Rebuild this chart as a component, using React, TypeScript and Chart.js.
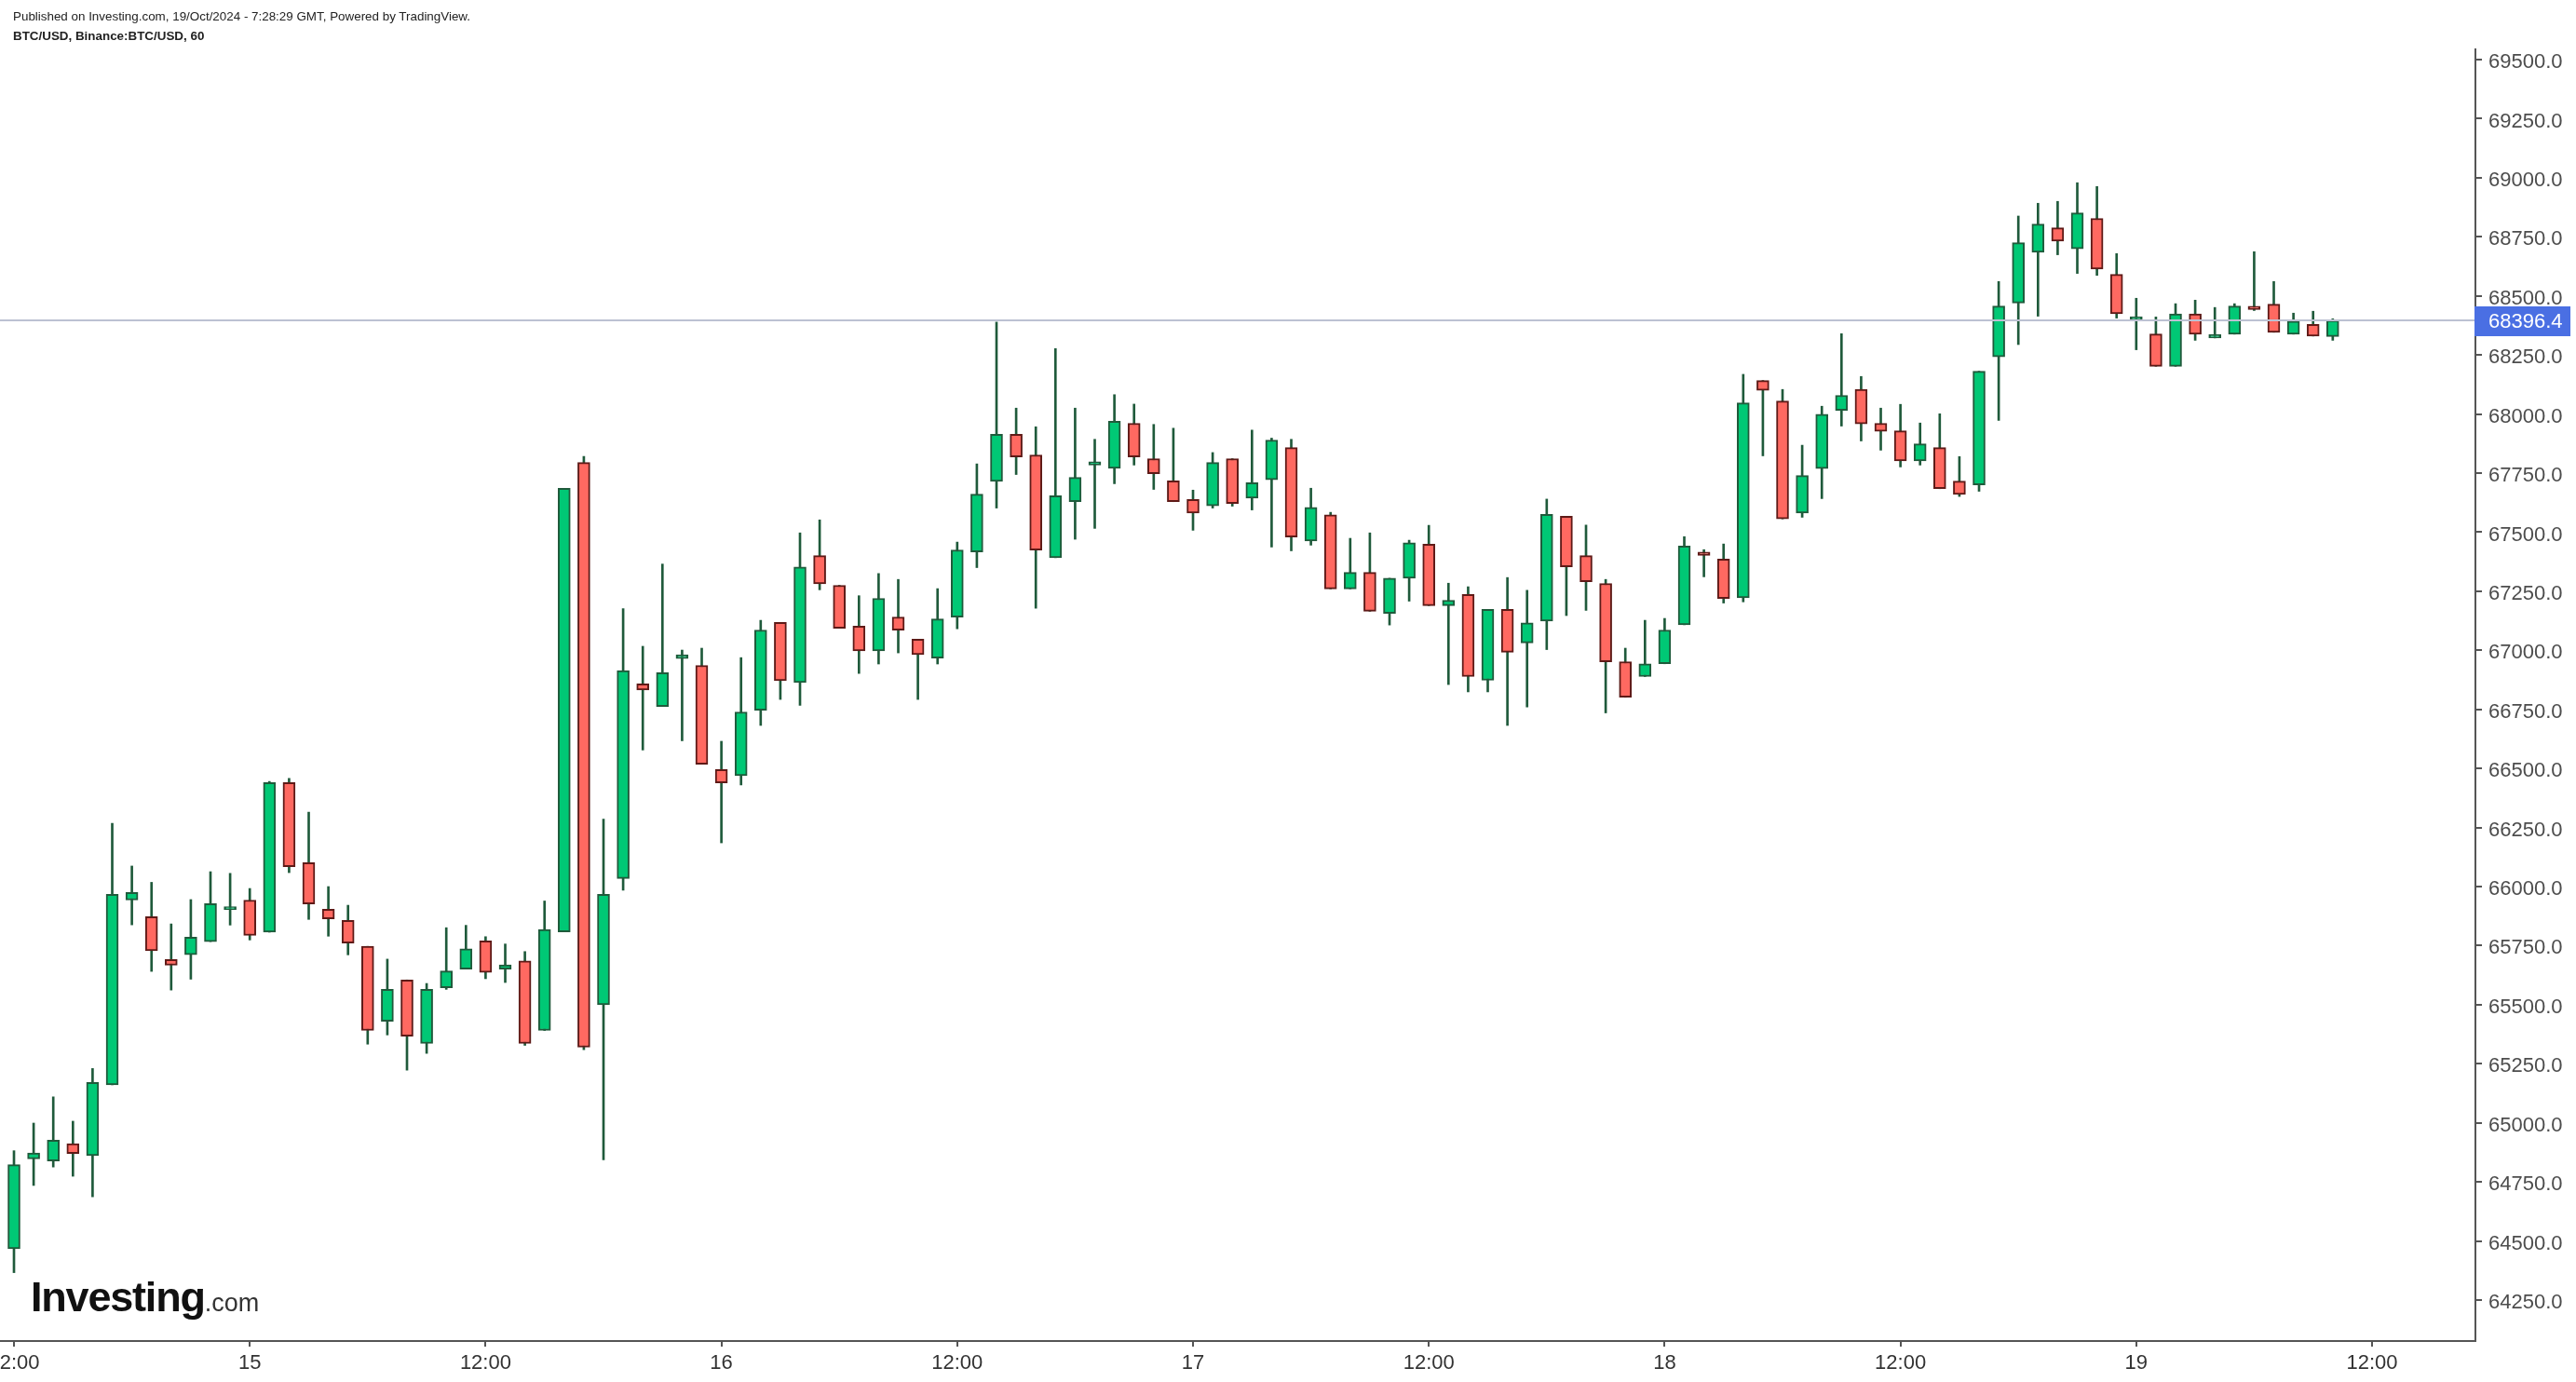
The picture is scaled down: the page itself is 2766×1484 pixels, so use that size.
import React, { useEffect, useRef } from "react";
import { Chart, registerables } from "chart.js";

Chart.register(...registerables);

// ---- Data (hourly BTC/USD candles, 14 Oct 12:00 -> 19 Oct 10:00) ----
const openPrices = [
  64467, 64847, 64839, 64912, 64861, 65161, 65943, 65873, 65691, 65712,
  65767, 65903, 65943, 65807, 66440, 66101, 65904, 65857, 65747, 65430,
  65605, 65336, 65572, 65651, 65770, 65651, 65685, 65391, 65808, 67795,
  65500, 66034, 66858, 66762, 66965, 66936, 66495, 66469, 66746, 67118,
  66864, 67401, 67275, 67102, 66998, 67141, 67047, 66967, 67140, 67416,
  67715, 67914, 67827, 67392, 67629, 67784, 67770, 67961, 67811, 67717,
  67638, 67611, 67811, 67644, 67722, 67858, 67463, 67573, 67260, 67330,
  67156, 67305, 67449, 67189, 67236, 66873, 67173, 67031, 67124, 67567,
  67401, 67283, 66952, 66889, 66943, 67108, 67416, 67386, 67222, 68142,
  68055, 67581, 67769, 68015, 68104, 67961, 67929, 67802, 67858, 67716,
  67700, 68242, 68470, 68684, 68788, 68699, 68828, 68591, 68398, 68339,
  68202, 68424, 68322, 68338, 68456, 68465, 68338, 68379, 68328,
];
const highPrices = [
  64882, 64999, 65110, 65007, 65230, 66268, 66087, 66018, 65842, 65945,
  66063, 66056, 65992, 66445, 66458, 66315, 66000, 65921, 65747, 65693,
  65605, 65590, 65826, 65836, 65788, 65757, 65725, 65939, 67686, 67821,
  66285, 67176, 67017, 67365, 67001, 67009, 66615, 66969, 67127, 67118,
  67497, 67552, 67275, 67231, 67325, 67300, 67047, 67261, 67458, 67789,
  68389, 68025, 67946, 68277, 68025, 67893, 68082, 68042, 67956, 67940,
  67678, 67837, 67811, 67932, 67898, 67893, 67686, 67584, 67474, 67497,
  67305, 67466, 67529, 67284, 67269, 67173, 67308, 67254, 67640, 67567,
  67530, 67300, 67009, 67127, 67135, 67481, 67426, 67450, 68168, 68142,
  68104, 67868, 68033, 68340, 68159, 68025, 68041, 67962, 68001, 67820,
  68181, 68561, 68838, 68892, 68900, 68979, 68963, 68679, 68490, 68411,
  68467, 68482, 68451, 68467, 68687, 68561, 68427, 68435, 68403,
];
const lowPrices = [
  64366, 64735, 64813, 64774, 64687, 65161, 65838, 65641, 65562, 65608,
  65767, 65837, 65774, 65807, 66059, 65861, 65790, 65711, 65333, 65372,
  65223, 65294, 65565, 65651, 65610, 65594, 65328, 65391, 65808, 65310,
  64844, 65985, 66578, 66762, 66617, 66518, 66185, 66430, 66682, 66792,
  66767, 67256, 67093, 66902, 66942, 66989, 66792, 66942, 67091, 67350,
  67602, 67744, 67178, 67392, 67470, 67516, 67705, 67784, 67681, 67629,
  67508, 67602, 67610, 67594, 67437, 67421, 67445, 67260, 67260, 67165,
  67107, 67208, 67189, 66855, 66824, 66824, 66682, 66760, 67003, 67147,
  67169, 66735, 66801, 66889, 66943, 67108, 67311, 67200, 67205, 67823,
  67556, 67563, 67642, 67949, 67886, 67847, 67776, 67784, 67684, 67651,
  67673, 67973, 68294, 68414, 68674, 68595, 68587, 68406, 68272, 68202,
  68202, 68312, 68322, 68338, 68438, 68346, 68338, 68330, 68312,
];
const closePrices = [
  64823, 64872, 64927, 64870, 65171, 65967, 65975, 65728, 65667, 65786,
  65928, 65915, 65793, 66440, 66084, 65926, 65863, 65761, 65391, 65565,
  65367, 65565, 65643, 65737, 65637, 65669, 65336, 65818, 67686, 65320,
  65967, 66914, 66832, 66905, 66981, 66518, 66439, 66739, 67086, 66871,
  67353, 67281, 67093, 66998, 67220, 67085, 66982, 67133, 67425, 67661,
  67914, 67818, 67424, 67654, 67732, 67798, 67969, 67818, 67747, 67629,
  67581, 67795, 67621, 67709, 67890, 67479, 67605, 67260, 67330, 67165,
  67305, 67455, 67189, 67212, 66889, 67173, 66992, 67116, 67575, 67353,
  67290, 66951, 66801, 66943, 67086, 67441, 67402, 67219, 68047, 68100,
  67556, 67740, 67999, 68079, 67958, 67927, 67802, 67874, 67684, 67660,
  68181, 68457, 68725, 68804, 68732, 68851, 68614, 68424, 68412, 68202,
  68424, 68338, 68336, 68457, 68442, 68346, 68393, 68330, 68396.4,
];
const lastPrice = 68396.4;

const xTickHours = [0, 12, 24, 36, 48, 60, 72, 84, 96, 108, 120];
const xTickLabels = ["12:00", "15", "12:00", "16", "12:00", "17", "12:00", "18", "12:00", "19", "12:00"];
const yTickValues = [
  64250, 64500, 64750, 65000, 65250, 65500, 65750, 66000, 66250, 66500, 66750,
  67000, 67250, 67500, 67750, 68000, 68250, 68500, 68750, 69000, 69250, 69500,
];

const headerLine = "Published on Investing.com, 19/Oct/2024 - 7:28:29 GMT, Powered by TradingView.";
const symbolLine = "BTC/USD, Binance:BTC/USD, 60";

const FONT = '"Liberation Sans", Arial, Helvetica, sans-serif';
const GREEN = "#00c875";
const GREEN_BORDER = "#1f5a3b";
const RED = "#ff6961";
const RED_BORDER = "#5e1a17";
const WICK = "#1f5a3b";
const AXIS = "#555555";

const W = 2766;
const H = 1484;

const lastPricePlugin = {
  id: "lastPrice",
  afterDatasetsDraw(chart: any) {
    const { ctx, chartArea } = chart;
    const y = Math.round(chart.scales.y.getPixelForValue(lastPrice));
    ctx.save();
    ctx.strokeStyle = "#bcc1d2";
    ctx.lineWidth = 2;
    ctx.beginPath();
    ctx.moveTo(chartArea.left, y);
    ctx.lineTo(chartArea.right, y);
    ctx.stroke();
    ctx.restore();
  },
  afterDraw(chart: any) {
    const { ctx, chartArea } = chart;
    const y = chart.scales.y.getPixelForValue(lastPrice);
    ctx.save();
    ctx.fillStyle = "#4a6fe3";
    ctx.fillRect(chartArea.right - 1, y - 15, 103, 32);
    ctx.fillStyle = "#ffffff";
    ctx.font = `22px ${FONT}`;
    ctx.textBaseline = "middle";
    ctx.textAlign = "left";
    ctx.fillText(lastPrice.toFixed(1), chartArea.right + 14, y + 2);
    ctx.restore();
  },
};

export default function App() {
  const canvasRef = useRef<HTMLCanvasElement | null>(null);

  useEffect(() => {
    const canvas = canvasRef.current;
    if (!canvas) return;
    const idx = openPrices.map((_, i) => i);
    const up = idx.map((i) => closePrices[i] >= openPrices[i]);
    const bodies = idx.map((i) => ({ x: i, y: [openPrices[i], closePrices[i]] }));
    const wicks = idx.map((i) => ({ x: i, y: [lowPrices[i], highPrices[i]] }));

    const chart = new Chart(canvas, {
      type: "bar",
      data: {
        datasets: [
          {
            label: "body",
            data: bodies as any,
            order: 0,
            grouped: false,
            barThickness: 13,
            borderWidth: 2,
            borderSkipped: false,
            backgroundColor: up.map((u) => (u ? GREEN : RED)),
            borderColor: up.map((u) => (u ? GREEN_BORDER : RED_BORDER)),
          } as any,
          {
            label: "wick",
            data: wicks as any,
            order: 1,
            grouped: false,
            barThickness: 2,
            borderWidth: 0,
            backgroundColor: WICK,
          } as any,
        ],
      },
      options: {
        responsive: false,
        animation: false,
        devicePixelRatio: 1,
        layout: { padding: { top: 53, left: 0, right: 0, bottom: 0 } },
        plugins: { legend: { display: false }, tooltip: { enabled: false } },
        scales: {
          x: {
            type: "linear",
            min: -0.711,
            max: 125.26,
            offset: false,
            grid: {
              display: true,
              drawOnChartArea: false,
              drawTicks: true,
              tickLength: 6,
              color: AXIS,
              lineWidth: 2,
              offset: false,
            },
            border: { display: true, color: AXIS, width: 2 },
            ticks: {
              autoSkip: false,
              maxRotation: 0,
              minRotation: 0,
              color: "#333333",
              padding: 5,
              font: { family: FONT, size: 22 },
              callback: (v: any) => {
                const k = xTickHours.indexOf(Number(v));
                return k >= 0 ? xTickLabels[k] : "";
              },
            },
            afterBuildTicks: (s: any) => {
              s.ticks = xTickHours.map((v) => ({ value: v }));
            },
            afterFit: (s: any) => {
              s.height = 44;
              s.paddingLeft = 0;
              s.paddingRight = 0;
            },
          } as any,
          y: {
            type: "linear",
            position: "right",
            min: 64076.6,
            max: 69543.4,
            grid: {
              display: true,
              drawOnChartArea: false,
              drawTicks: true,
              tickLength: 7,
              color: AXIS,
              lineWidth: 2,
            },
            border: { display: true, color: AXIS, width: 2 },
            ticks: {
              color: "#4d4d4d",
              padding: 7,
              labelOffset: 3,
              font: { family: FONT, size: 22 },
              callback: (v: any) => Number(v).toFixed(1),
            },
            afterBuildTicks: (s: any) => {
              s.ticks = yTickValues.map((v) => ({ value: v }));
            },
            afterFit: (s: any) => {
              s.width = 108;
              s.paddingTop = 0;
              s.paddingBottom = 0;
            },
          } as any,
        },
      },
      plugins: [lastPricePlugin],
    });
    return () => chart.destroy();
  }, []);

  return (
    <div
      style={{
        position: "absolute",
        left: 0,
        top: 0,
        width: W,
        height: H,
        background: "#ffffff",
        overflow: "hidden",
        fontFamily: FONT,
      }}
    >
      <canvas
        ref={canvasRef}
        width={W}
        height={H}
        style={{ position: "absolute", left: 0, top: 0, width: W, height: H, display: "block" }}
      />
      <div style={{ position: "absolute", left: 14, top: 9, fontSize: 13.4, color: "#222", lineHeight: "17px", whiteSpace: "nowrap" }}>
        {headerLine}
      </div>
      <div
        style={{ position: "absolute", left: 14, top: 30, fontSize: 13.4, fontWeight: 700, color: "#222", lineHeight: "17px", whiteSpace: "nowrap" }}
      >
        {symbolLine}
      </div>
      <div
        style={{
          position: "absolute",
          left: 33,
          top: 1369,
          color: "#111",
          whiteSpace: "nowrap",
          lineHeight: "48px",
        }}
      >
        <span style={{ fontSize: 45, fontWeight: 700, letterSpacing: -1.2 }}>Investing</span>
        <span style={{ fontSize: 27, fontWeight: 400, color: "#333" }}>.com</span>
      </div>
    </div>
  );
}
